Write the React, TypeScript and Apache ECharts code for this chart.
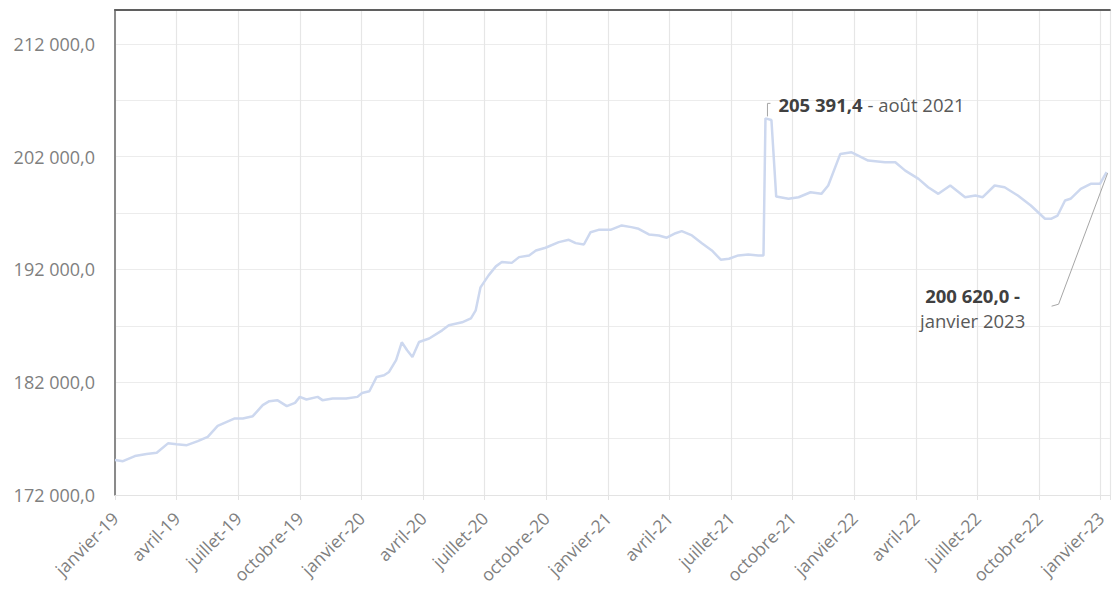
import React, { useEffect, useRef } from "react";
import * as echarts from "echarts";

const dates: string[] = [
  "2019-01-01", "2019-01-13", "2019-01-31", "2019-02-16", "2019-03-02", "2019-03-19",
  "2019-04-01", "2019-04-16", "2019-05-02", "2019-05-17", "2019-06-01", "2019-06-11",
  "2019-06-26", "2019-07-08", "2019-07-23", "2019-08-07", "2019-08-17", "2019-08-29",
  "2019-09-12", "2019-09-24", "2019-10-01", "2019-10-11", "2019-10-28", "2019-11-04",
  "2019-11-19", "2019-12-09", "2019-12-26", "2020-01-02", "2020-01-13", "2020-01-24",
  "2020-02-04", "2020-02-11", "2020-02-21", "2020-02-29", "2020-03-08", "2020-03-16",
  "2020-03-26", "2020-04-10", "2020-04-29", "2020-05-09", "2020-05-29", "2020-06-11",
  "2020-06-18", "2020-06-25", "2020-07-07", "2020-07-18", "2020-07-27", "2020-08-11",
  "2020-08-22", "2020-09-06", "2020-09-16", "2020-09-30", "2020-10-20", "2020-11-04",
  "2020-11-14", "2020-11-26", "2020-12-06", "2020-12-18", "2021-01-05", "2021-01-22",
  "2021-02-05", "2021-02-15", "2021-03-01", "2021-03-16", "2021-03-28", "2021-04-10",
  "2021-04-19", "2021-05-04", "2021-05-19", "2021-06-03", "2021-06-16", "2021-06-28",
  "2021-07-12", "2021-07-27", "2021-08-11", "2021-08-19", "2021-08-22", "2021-08-31",
  "2021-09-07", "2021-09-25", "2021-10-10", "2021-10-28", "2021-11-13", "2021-11-23",
  "2021-12-11", "2021-12-28", "2022-01-07", "2022-01-22", "2022-02-15", "2022-03-01",
  "2022-03-16", "2022-04-05", "2022-04-19", "2022-05-04", "2022-05-22", "2022-06-13",
  "2022-06-28", "2022-07-09", "2022-07-27", "2022-08-11", "2022-08-31", "2022-09-19",
  "2022-10-10", "2022-10-19", "2022-10-29", "2022-11-09", "2022-11-17", "2022-12-02",
  "2022-12-17", "2022-12-31", "2023-01-10",
];

const values: number[] = [
  175100, 175000, 175450, 175630, 175740, 176580,
  176490, 176420, 176780, 177160, 178130, 178400,
  178790, 178790, 178990, 179965, 180320, 180410,
  179880, 180170, 180700, 180470, 180700, 180410,
  180560, 180560, 180700, 181050, 181200, 182470,
  182620, 182910, 183950, 185540, 184830, 184240,
  185570, 185870, 186600, 187050, 187310, 187660,
  188370, 190410, 191470, 192270, 192650, 192580,
  193090, 193240, 193680, 193920, 194420, 194630,
  194330, 194210, 195300, 195510, 195510, 195900,
  195750, 195600, 195100, 195010, 194810, 195210,
  195390, 195010, 194330, 193680, 192860, 192950,
  193240, 193330, 193240, 193240, 205391.4, 205250,
  198460, 198260, 198400, 198840, 198700, 199440,
  202240, 202380, 202090, 201650, 201500, 201500,
  200760, 200030, 199290, 198700, 199440, 198400,
  198550, 198400, 199440, 199290, 198550, 197670,
  196490, 196490, 196780, 198110, 198260, 199140,
  199590, 199590, 200620,
];

const xTickLabels: string[] = [
  "janvier-19", "avril-19", "juillet-19", "octobre-19",
  "janvier-20", "avril-20", "juillet-20", "octobre-20",
  "janvier-21", "avril-21", "juillet-21", "octobre-21",
  "janvier-22", "avril-22", "juillet-22", "octobre-22",
  "janvier-23",
];

const yTickValues: number[] = [172000, 182000, 192000, 202000, 212000];

const monthNames: string[] = [
  "janvier", "février", "mars", "avril", "mai", "juin",
  "juillet", "août", "septembre", "octobre", "novembre", "décembre",
];

const FONT = "'Open Sans', 'Liberation Sans', sans-serif";

function fmtFr(v: number): string {
  const fixed = Math.abs(v).toFixed(1);
  const [intPart, dec] = fixed.split(".");
  const grouped = intPart.replace(/\B(?=(\d{3})+(?!\d))/g, " ");
  return (v < 0 ? "-" : "") + grouped + "," + dec;
}

// convert a date string into a month position (months since janvier 2019)
function monthPos(d: string): number {
  const [y, m, day] = d.split("-").map(Number);
  const dim = new Date(y, m, 0).getDate();
  return (y - 2019) * 12 + (m - 1) + (day - 1) / dim;
}

function monthLabel(d: string): string {
  const [y, m] = d.split("-").map(Number);
  return monthNames[m - 1] + " " + y;
}

export default function App() {
  const ref = useRef<HTMLDivElement>(null);

  useEffect(() => {
    if (!ref.current) return;
    const chart = echarts.init(ref.current, null, { renderer: "svg" });
    const seriesData = dates.map((d, i) => [monthPos(d), values[i]]);

    const xMin = 0;
    const xMax = 48.45;

    chart.setOption({
      animation: false,
      backgroundColor: "#ffffff",
      grid: { left: 115, right: 0, top: 10, bottom: 96 },
      xAxis: [
        {
          type: "value",
          min: xMin,
          max: xMax,
          interval: 3,
          axisLine: { show: true, lineStyle: { color: "#e3e3e3", width: 1 } },
          axisTick: { show: true, length: 5, lineStyle: { color: "#e3e3e3" } },
          splitLine: { show: true, lineStyle: { color: "#e6e6e6", width: 1.2 } },
          axisLabel: {
            rotate: 45,
            margin: 20,
            color: "#7f7f7f",
            fontFamily: FONT,
            fontSize: 17.5,
            showMaxLabel: true,
            formatter: (v: number) => {
              const idx = Math.round(v / 3);
              return Math.abs(v - idx * 3) < 1e-6 && xTickLabels[idx] ? xTickLabels[idx] : "";
            },
          },
        },
        {
          type: "value",
          position: "top",
          min: xMin,
          max: xMax,
          axisLine: { show: true, lineStyle: { color: "#5f5f5f", width: 2 } },
          axisTick: { show: false },
          axisLabel: { show: false },
          splitLine: { show: false },
        },
      ],
      yAxis: {
        type: "value",
        min: 172000,
        max: 215000,
        interval: 5000,
        axisLine: { show: true, lineStyle: { color: "#8a8a8a", width: 2 } },
        axisTick: { show: false },
        splitLine: { show: true, lineStyle: { color: "#ececec", width: 1.2 } },
        axisLabel: {
          margin: 20,
          color: "#7f7f7f",
          fontFamily: FONT,
          fontSize: 18,
          formatter: (v: number) => (yTickValues.includes(v) ? fmtFr(v) : ""),
        },
      },
      series: [
        {
          type: "line",
          xAxisIndex: 0,
          yAxisIndex: 0,
          data: seriesData,
          showSymbol: false,
          symbol: "none",
          lineStyle: { color: "#cdd8ef", width: 2.5 },
          z: 3,
        },
      ],
    });

    // annotations anchored on data points
    let peakIdx = 0;
    values.forEach((v, i) => {
      if (v > values[peakIdx]) peakIdx = i;
    });
    const lastIdx = values.length - 1;
    const pPeak = chart.convertToPixel({ xAxisIndex: 0, yAxisIndex: 0 }, seriesData[peakIdx]) as number[];
    const pLast = chart.convertToPixel({ xAxisIndex: 0, yAxisIndex: 0 }, seriesData[lastIdx]) as number[];

    chart.setOption({
      graphic: [
        {
          type: "polyline",
          shape: {
            points: [
              [pPeak[0] + 5, pPeak[1] - 15],
              [pPeak[0] + 2, pPeak[1] - 15],
              [pPeak[0] + 2, pPeak[1] - 2],
            ],
          },
          style: { stroke: "#a6a6a6", lineWidth: 1, fill: null },
          z: 10,
        },
        {
          type: "text",
          x: pPeak[0] + 13,
          y: pPeak[1] - 14,
          style: {
            text: "{b|" + fmtFr(values[peakIdx]) + "}{r| - " + monthLabel(dates[peakIdx]) + "}",
            verticalAlign: "middle",
            align: "left",
            rich: {
              b: { fontFamily: FONT, fontSize: 18.5, fontWeight: "bold", fill: "#404040" },
              r: { fontFamily: FONT, fontSize: 18.5, fill: "#595959" },
            },
          },
          z: 10,
        },
        {
          type: "polyline",
          shape: {
            points: [
              [pLast[0] - 55, pLast[1] + 134],
              [pLast[0] - 48, pLast[1] + 132],
              [pLast[0] + 1, pLast[1] + 1],
            ],
          },
          style: { stroke: "#a6a6a6", lineWidth: 1, fill: null },
          z: 10,
        },
        {
          type: "text",
          x: pLast[0] - 134,
          y: pLast[1] + 136,
          style: {
            text: "{b|" + fmtFr(values[lastIdx]) + " -}\n{r|" + monthLabel(dates[lastIdx]) + "}",
            verticalAlign: "middle",
            align: "center",
            rich: {
              b: { fontFamily: FONT, fontSize: 18.5, fontWeight: "bold", fill: "#404040", lineHeight: 25, align: "center" },
              r: { fontFamily: FONT, fontSize: 18.5, fill: "#595959", lineHeight: 25, align: "center" },
            },
          },
          z: 10,
        },
      ],
    });

    return () => chart.dispose();
  }, []);

  return (
    <div
      ref={ref}
      style={{ position: "absolute", left: 0, top: 0, width: 1112, height: 591 }}
    />
  );
}
